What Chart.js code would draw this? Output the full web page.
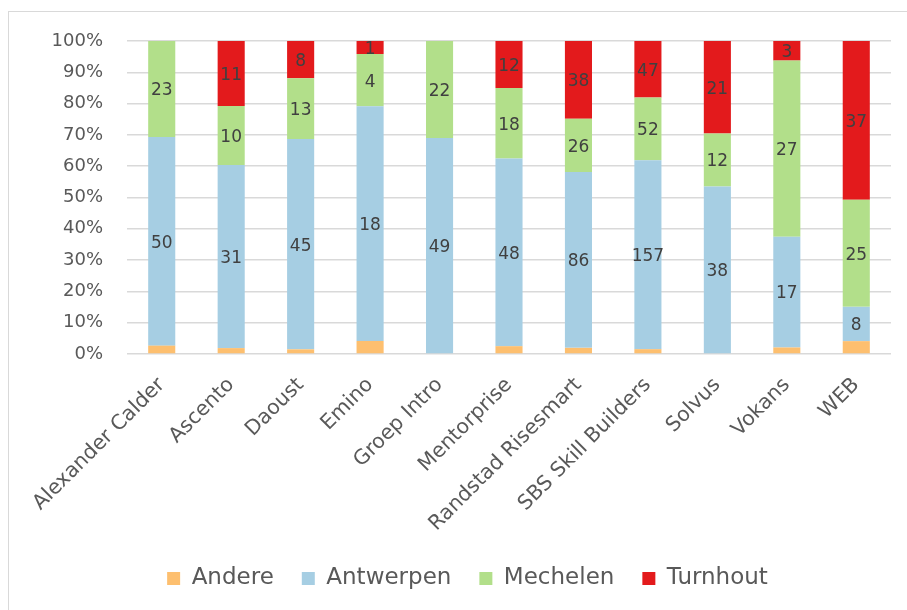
<!DOCTYPE html>
<html>
<head>
<meta charset="utf-8">
<script src="https://cdn.jsdelivr.net/npm/chart.js@4.4.1/dist/chart.umd.min.js"></script>
<style>
  body { margin: 0; background: #fff; }
  #wrap { position: relative; width: 907px; height: 610px; overflow: hidden; }
  #frame { position: absolute; left: 8px; top: 11px; width: 940px; height: 640px; border: 1.5px solid #d9d9d9; }
  canvas { position: absolute; left: 0; top: 0; }
</style>
</head>
<body>
<div id="wrap">
  <div id="frame"></div>
  <canvas id="chart" width="907" height="610"></canvas>
</div>
<script>
const categories = ['Alexander Calder', 'Ascento', 'Daoust', 'Emino', 'Groep Intro', 'Mentorprise',
  'Randstad Risesmart', 'SBS Skill Builders', 'Solvus', 'Vokans', 'WEB'];

// counts per location (Andere is not labelled in the picture)
const andere    = [2, 1, 1, 1, 0, 2, 3, 4, 0, 1, 3];
const antwerpen = [50, 31, 45, 18, 49, 48, 86, 157, 38, 17, 8];
const mechelen  = [23, 10, 13, 4, 22, 18, 26, 52, 12, 27, 25];
const turnhout  = [0, 11, 8, 1, 0, 12, 38, 47, 21, 3, 37];

const yTicks = [0, 10, 20, 30, 40, 50, 60, 70, 80, 90, 100];

const series = [
  { label: 'Andere', counts: andere, color: '#fdbf6f', showLabels: false },
  { label: 'Antwerpen', counts: antwerpen, color: '#a6cee3', showLabels: true },
  { label: 'Mechelen', counts: mechelen, color: '#b2df8a', showLabels: true },
  { label: 'Turnhout', counts: turnhout, color: '#e31a1c', showLabels: true }
];

const totals = categories.map((c, i) => series.reduce((s, d) => s + d.counts[i], 0));

const FONT = '"DejaVu Sans", Verdana, sans-serif';

// draws the counts in the middle of every segment
const segmentLabels = {
  id: 'segmentLabels',
  afterDatasetsDraw(chart) {
    const ctx = chart.ctx;
    ctx.save();
    ctx.font = '17px ' + FONT;
    ctx.fillStyle = '#404040';
    ctx.textAlign = 'center';
    ctx.textBaseline = 'middle';
    chart.data.datasets.forEach((ds, di) => {
      if (!series[di].showLabels) return;
      chart.getDatasetMeta(di).data.forEach((bar, i) => {
        const v = series[di].counts[i];
        if (!v) return;
        ctx.fillText(String(v), bar.x, (bar.y + bar.base) / 2 + 2);
      });
    });
    ctx.restore();
  }
};

// legend sits a bit right of the canvas centre in the original
const legendShift = {
  id: 'legendShift',
  afterLayout(chart) {
    chart.legend.left += 22;
    chart.legend.right += 22;
  }
};

new Chart(document.getElementById('chart'), {
  type: 'bar',
  data: {
    labels: categories,
    datasets: series.map(s => ({
      label: s.label,
      data: s.counts.map((v, i) => v / totals[i] * 100),
      backgroundColor: s.color,
      borderWidth: 0,
      barPercentage: 0.39,
      categoryPercentage: 1
    }))
  },
  options: {
    responsive: false,
    animation: false,
    layout: { padding: { top: 41, right: 16, left: 0, bottom: 10 } },
    plugins: {
      tooltip: { enabled: false },
      legend: {
        position: 'bottom',
        labels: {
          boxWidth: 13,
          boxHeight: 13,
          padding: 28,
          color: '#595959',
          font: { family: FONT, size: 23 }
        }
      }
    },
    scales: {
      x: {
        stacked: true,
        grid: { display: false },
        border: { display: false },
        ticks: {
          color: '#595959',
          font: { family: FONT, size: 20.5 },
          minRotation: 45,
          maxRotation: 45,
          autoSkip: false,
          padding: 11
        },
        afterFit(scale) { scale.height = 185; }
      },
      y: {
        stacked: true,
        min: 0,
        max: 100,
        grid: { color: '#d9d9d9', lineWidth: 1.5, drawTicks: false },
        border: { display: false },
        afterBuildTicks(scale) { scale.ticks = yTicks.map(v => ({ value: v })); },
        ticks: {
          color: '#595959',
          font: { family: FONT, size: 18 },
          padding: 24,
          callback: v => v + '%'
        },
        afterFit(scale) { scale.width = 127; }
      }
    }
  },
  plugins: [segmentLabels, legendShift]
});
</script>
</body>
</html>
